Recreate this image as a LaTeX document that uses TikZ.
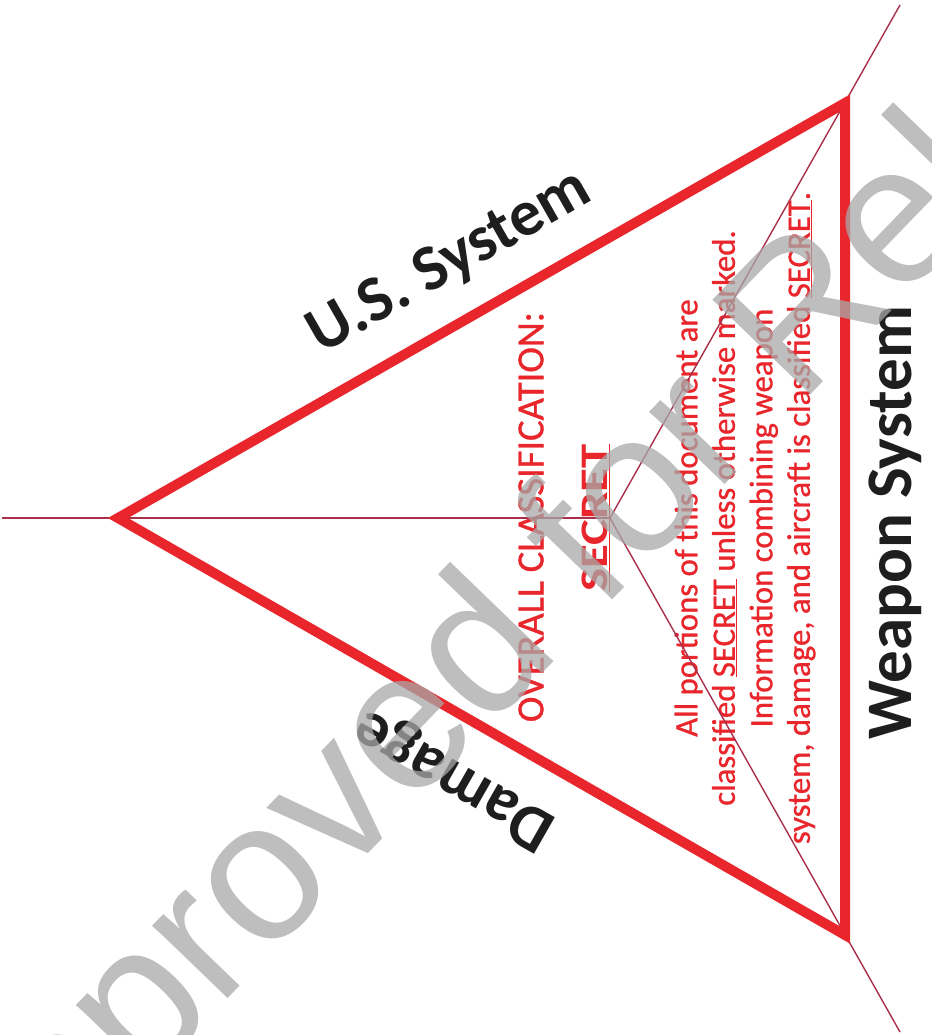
\documentclass[tikz,border=0pt]{standalone}
\usepackage{fontspec}
\setmainfont{Carlito}
\newfontfamily\wmfont{Liberation Sans}
\newfontfamily\redfont[FakeBold=0.8]{Carlito}
\usetikzlibrary{calc}
\definecolor{cred}{HTML}{E8262C}
\definecolor{cwire}{HTML}{A8304A}
\definecolor{cink}{HTML}{1E1E1E}
\definecolor{cwater}{HTML}{A8A8A8}
\tikzset{
  every picture/.style={x=1pt, y=-1pt},
  edge/.style={draw=cred, line width=10pt, line join=miter},
  wire/.style={draw=cwire, line width=1.4pt},
  side/.style={font=\fontsize{65}{70}\selectfont\bfseries, text=cink, inner sep=0pt},
  redtext/.style={text=cred, inner sep=0pt, align=center},
  water/.style={font=\wmfont\fontsize{198}{200}\selectfont, text=cwater, opacity=0.75, inner sep=0pt, anchor=base west, rotate=46},
}

\begin{document}
\begin{tikzpicture}
  \useasboundingbox (0,0) rectangle (931,1035);
  \coordinate (L) at (118,518);
  \coordinate (T) at (845,103);
  \coordinate (B) at (845,935);
  \coordinate (C) at (610,518);
  \coordinate (W) at (2,518);
  \coordinate (NE) at (900,5);
  \coordinate (SE) at (900,1032);
  \node[side, rotate=29.7] (us) at (450,263) {U.S. System};
  \node[side, rotate=150.3] (dmg) at (455,778) {Damage};
  \node[side, rotate=90] (wpn) at (895,523) {Weapon System};
  \node[redtext, rotate=90, font=\redfont\fontsize{38.5}{40}\selectfont] (cls) at (531,517) {OVERALL CLASSIFICATION:};
  \node[redtext, rotate=90, font=\fontsize{39}{42}\selectfont\bfseries] (sec) at (596,518) {\scalebox{1.25}[1]{\underline{SECRET}}};
  \node[redtext, rotate=90, font=\redfont\fontsize{32.8}{37.5}\selectfont] (note) at (745,518) {All portions of this document are\\classified \underline{SECRET} unless otherwise marked.\\Information combining weapon\\system, damage, and aircraft is classified \underline{SECRET}.};
  \draw[wire] (W) -- (C);
  \draw[wire] (C) -- (NE);
  \draw[wire] (C) -- (SE);
  \draw[edge] (L) -- (T) -- (B) -- cycle;
  \begin{scope}
    \clip (0,0) rectangle (931,1035);
    \node[water] (wm) at (-26,1262) {Approved for Release};
  \end{scope}
\end{tikzpicture}
\end{document}
